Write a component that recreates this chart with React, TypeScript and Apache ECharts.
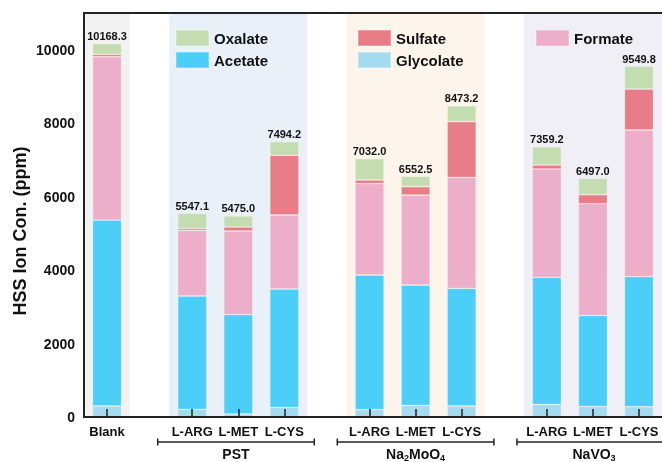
import React, { useEffect, useRef } from "react";
import * as echarts from "echarts";

const positions = [0, 1.85, 2.85, 3.85, 5.7, 6.7, 7.7, 9.55, 10.55, 11.55];
const categories = ["Blank", "L-ARG", "L-MET", "L-CYS", "L-ARG", "L-MET", "L-CYS", "L-ARG", "L-MET", "L-CYS"];
const glycolate = [300, 210, 82, 264, 199, 318, 300, 346, 291, 280];
const acetate = [5063, 3084, 2703, 3221, 3667, 3276, 3204, 3457, 2467, 3540];
const formate = [4446, 1789, 2279, 2015, 2486, 2450, 3022, 2949, 3049, 3994];
const sulfate = [66, 55, 109, 1625, 101, 226, 1514, 109, 245, 1116];
const oxalate = [293.3, 409.1, 302.0, 369.2, 579.0, 282.5, 433.2, 498.2, 445.0, 619.8];
const totals = [10168.3, 5547.1, 5475.0, 7494.2, 7032.0, 6552.5, 8473.2, 7359.2, 6497.0, 9549.8];

const groupNames = ["PST", "Na{s|2}MoO{s|4}", "NaVO{s|3}"];
const groupSpans = [[1.1, 4.5], [5.0, 8.4], [8.9, 12.25]];
const bandSpans = [[-0.5, 0.5], [1.35, 4.35], [5.2, 8.2], [9.05, 12.05]];
const bandColors = ["#f2f2f2", "#e9f0f8", "#fdf5ec", "#efeff5"];

const yMajor = [0, 2000, 4000, 6000, 8000, 10000];
const yMinor = [1000, 3000, 5000, 7000, 9000];

const X_MIN = -0.5;
const X_MAX = 12.05;
const STEP = 0.05;

const FONT = 'Arial, "Liberation Sans", sans-serif';
const colors: Record<string, string> = {
  Glycolate: "#a5dbf0",
  Acetate: "#4bcef8",
  Formate: "#ecaec9",
  Sulfate: "#e87d87",
  Oxalate: "#c3ddb0",
};

export default function App() {
  const ref = useRef<HTMLDivElement>(null);
  useEffect(() => {
    if (!ref.current) return;
    const chart = echarts.init(ref.current, undefined, { renderer: "svg" });

    const slotCount = Math.round((X_MAX - X_MIN) / STEP) + 1;
    const slotOf = (x: number) => (x - X_MIN) / STEP;
    const slots = Array.from({ length: slotCount }, (_, i) => String(i));
    const barOfSlot: Record<number, number> = {};
    positions.forEach((p, i) => {
      barOfSlot[Math.round(slotOf(p))] = i;
    });
    const isBarSlot = (idx: number) => barOfSlot[idx] !== undefined;

    const mkBar = (name: string, vals: number[], extra: any = {}) => {
      const data: any[] = slots.map(() => "-");
      vals.forEach((v, i) => {
        data[Math.round(slotOf(positions[i]))] = v;
      });
      return {
        name,
        type: "bar",
        stack: "total",
        barWidth: 29,
        z: 3,
        itemStyle: { color: colors[name], borderColor: "rgba(255,255,255,0.25)", borderWidth: 0.8 },
        data,
        ...extra,
      };
    };
    const legendBase = {
      orient: "vertical",
      padding: 0,
      itemWidth: 33,
      itemHeight: 16,
      itemGap: 4,
      icon: "rect",
      textStyle: { fontFamily: FONT, fontSize: 15, fontWeight: "bold", color: "#111", lineHeight: 16 },
    };
    const axisLineStyle = { color: "#222", width: 2 };
    const tickStyle = { color: "#222", width: 1.5 };
    const option: any = {
      animation: false,
      grid: { left: 84, right: 0, top: 13, bottom: 45 },
      legend: [
        { ...legendBase, data: ["Oxalate", "Acetate"], left: 175, top: 29 },
        { ...legendBase, data: ["Sulfate", "Glycolate"], left: 357, top: 29 },
        { ...legendBase, data: ["Formate"], left: 535, top: 29 },
      ],
      xAxis: [
        {
          type: "category",
          data: slots,
          boundaryGap: false,
          z: 10,
          splitLine: { show: false },
          axisLine: { onZero: false, lineStyle: axisLineStyle },
          axisTick: { interval: (i: number) => isBarSlot(i), inside: true, length: 8, lineStyle: tickStyle },
          axisLabel: {
            interval: (i: number) => isBarSlot(i),
            margin: 8,
            fontFamily: FONT,
            fontSize: 13,
            fontWeight: "bold",
            color: "#111",
            formatter: (_v: string, i: number) => (isBarSlot(i) ? categories[barOfSlot[i]] : ""),
          },
        },
        {
          type: "category",
          data: slots,
          boundaryGap: false,
          position: "top",
          z: 10,
          splitLine: { show: false },
          axisLine: { show: true, onZero: false, lineStyle: axisLineStyle },
          axisTick: { show: false },
          axisLabel: { show: false },
        },
      ],
      yAxis: [
        {
          type: "value",
          min: 0,
          max: 11000,
          z: 10,
          splitLine: { show: false },
          axisLine: { show: true, onZero: false, lineStyle: axisLineStyle },
          axisTick: { customValues: yMajor, inside: true, length: 8, lineStyle: tickStyle },
          axisLabel: {
            customValues: yMajor,
            margin: 9,
            fontFamily: FONT,
            fontSize: 14,
            fontWeight: "bold",
            color: "#111",
            formatter: (v: number) => String(v),
          },
        },
        {
          type: "value",
          position: "left",
          min: 0,
          max: 11000,
          z: 10,
          splitLine: { show: false },
          axisLine: { show: false, onZero: false },
          axisTick: { customValues: yMinor, inside: true, length: 4, lineStyle: tickStyle },
          axisLabel: { show: false },
        },
      ],
      graphic: [
        {
          type: "text",
          x: 20,
          y: 231,
          rotation: Math.PI / 2,
          style: {
            text: "HSS Ion Con. (ppm)",
            fontFamily: FONT,
            fontSize: 18,
            fontWeight: "bold",
            fill: "#111",
            align: "center",
            verticalAlign: "middle",
          },
        },
      ],
      series: [
        {
          name: "bands",
          type: "custom",
          z: 1,
          silent: true,
          clip: true,
          data: bandSpans.map(() => 0),
          renderItem: (params: any, api: any) => {
            const s = bandSpans[params.dataIndex];
            const p1 = api.coord([slotOf(s[0]), 11000]);
            const p2 = api.coord([slotOf(s[1]), 0]);
            return {
              type: "rect",
              shape: { x: p1[0], y: p1[1], width: p2[0] - p1[0], height: p2[1] - p1[1] },
              style: { fill: bandColors[params.dataIndex] },
            };
          },
        },
        mkBar("Glycolate", glycolate),
        mkBar("Acetate", acetate),
        mkBar("Formate", formate),
        mkBar("Sulfate", sulfate),
        mkBar("Oxalate", oxalate, {
          label: {
            show: true,
            position: "top",
            distance: 2,
            fontFamily: FONT,
            fontSize: 11,
            fontWeight: "bold",
            color: "#111",
            formatter: (p: any) => {
              const b = barOfSlot[p.dataIndex];
              return b === undefined ? "" : totals[b].toFixed(1);
            },
          },
        }),
        {
          name: "brackets",
          type: "custom",
          z: 4,
          silent: true,
          clip: false,
          data: groupSpans.map(() => 0),
          renderItem: (params: any, api: any) => {
            const s = groupSpans[params.dataIndex];
            const a = api.coord([slotOf(s[0]), 0]);
            const b = api.coord([slotOf(s[1]), 0]);
            const y = a[1] + 25;
            const ls = { stroke: "#222", lineWidth: 1.5 };
            return {
              type: "group",
              children: [
                { type: "line", shape: { x1: a[0], y1: y, x2: b[0], y2: y }, style: ls },
                { type: "line", shape: { x1: a[0], y1: y - 3.5, x2: a[0], y2: y + 3.5 }, style: ls },
                { type: "line", shape: { x1: b[0], y1: y - 3.5, x2: b[0], y2: y + 3.5 }, style: ls },
                {
                  type: "text",
                  x: (a[0] + b[0]) / 2,
                  y: a[1] + 37,
                  style: {
                    text: groupNames[params.dataIndex],
                    fontFamily: FONT,
                    fontSize: 14,
                    fontWeight: "bold",
                    fill: "#111",
                    align: "center",
                    verticalAlign: "middle",
                    rich: {
                      s: { fontFamily: FONT, fontSize: 9, fontWeight: "bold", fill: "#111", padding: [7, 0, 0, 0] },
                    },
                  },
                },
              ],
            };
          },
        },
      ],
    };
    chart.setOption(option);
    return () => chart.dispose();
  }, []);
  return <div ref={ref} style={{ position: "fixed", left: 0, top: 0, width: 662, height: 462 }} />;
}
